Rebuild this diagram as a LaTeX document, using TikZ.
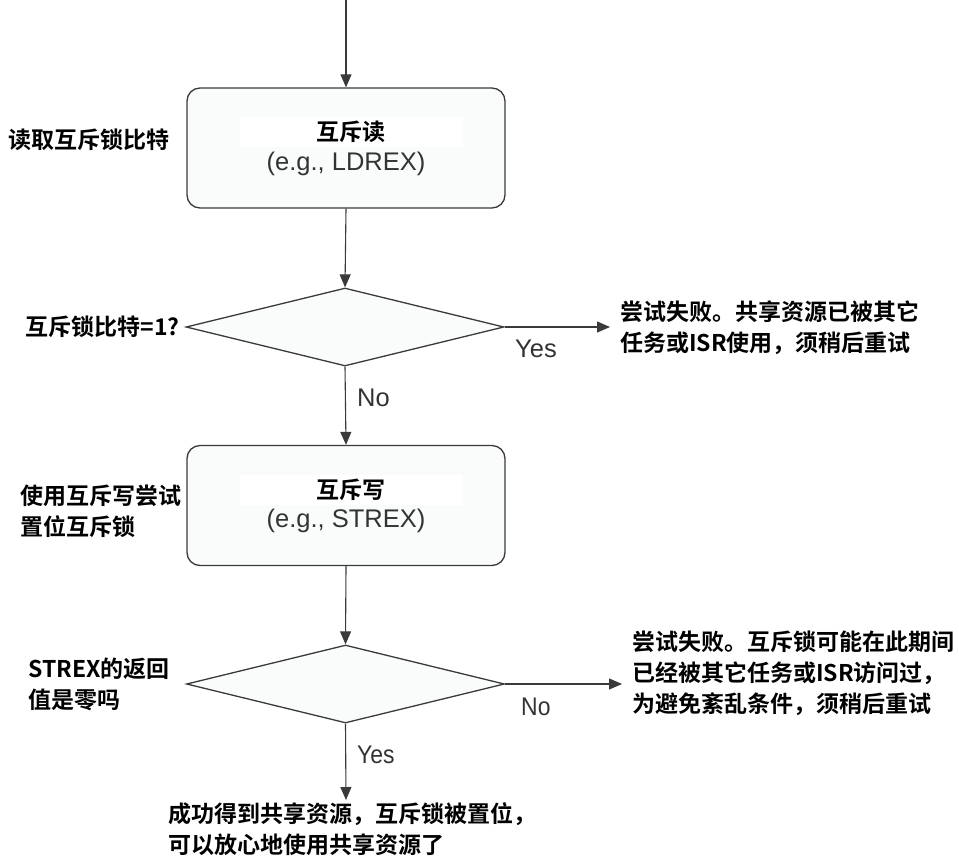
\documentclass[tikz,border=0pt]{standalone}
\usepackage{fontspec}
\newfontfamily\cjk{Noto Sans CJK SC}[BoldFont={Noto Sans CJK SC Bold}]
\newfontfamily\helv{Liberation Sans}
\usetikzlibrary{shapes.geometric,arrows.meta}
\definecolor{linec}{HTML}{3A3A3A}
\definecolor{boxfill}{HTML}{FAFCFC}
\definecolor{engc}{HTML}{333333}
\tikzset{
  flow/.style={draw=linec, line width=1.1pt, -{Triangle[length=13pt,width=11pt]}},
  procbox/.style={draw=linec, line width=1.3pt, fill=boxfill, rounded corners=13pt,
    minimum width=318pt, minimum height=120pt, inner sep=0pt},
  decision/.style={diamond, draw=linec, line width=1.3pt, fill=boxfill,
    minimum width=318pt, minimum height=78pt, inner sep=0pt},
  cn/.style={font=\cjk\bfseries\fontsize{23}{31}\selectfont, align=left, inner sep=0pt, text=black},
  titlecn/.style={cn, fill=white, minimum width=223pt, minimum height=30pt},
  en/.style={font=\helv\fontsize{25.5}{28}\selectfont, text=engc, inner sep=0pt},
}
\begin{document}
\begin{tikzpicture}[x=1pt,y=-1pt]
\useasboundingbox (0,0) rectangle (959,865);
\coordinate (start) at (346,0);
\node[procbox] (box1) at (346,148) {};
\node[titlecn] (t1) at (351,132) {互斥读};
\node[en] (e1) at (346,164) {(e.g., LDREX)};
\node[decision] (d1) at (345,327) {};
\node[procbox] (box2) at (346,505.5) {};
\node[titlecn] (t2) at (351,490) {互斥写};
\node[en] (e2) at (346,521) {(e.g., STREX)};
\node[decision] (d2) at (345.5,684) {};

\node[cn, anchor=west] (l1) at (8,140) {读取互斥锁比特};
\node[cn, anchor=east] (l2) at (180,327) {互斥锁比特=1?};
\node[cn, anchor=west] (l3) at (20,511) {使用互斥写尝试\\置位互斥锁};
\node[cn, anchor=west] (l4) at (28,684) {STREX的返回\\值是零吗};

\node[cn, anchor=west] (r1) at (620,328) {尝试失败。共享资源已被其它\\任务或ISR使用，须稍后重试};
\node[cn, anchor=west] (r2) at (632,673) {尝试失败。互斥锁可能在此期间\\已经被其它任务或ISR访问过，\\为避免紊乱条件，须稍后重试};
\node[cn, anchor=west] (b1) at (168,829) {成功得到共享资源，互斥锁被置位，\\可以放心地使用共享资源了};

\coordinate (r1in) at (610,327);
\coordinate (r2in) at (622,684);
\coordinate (b1in) at (346,800);

\draw[flow] (start) -- (box1.north);
\draw[flow] (box1.south) -- (d1.north);
\draw[flow] (d1.east) -- (r1in);
\draw[flow] (d1.south) -- (box2.north);
\draw[flow] (box2.south) -- (d2.north);
\draw[flow] (d2.east) -- (r2in);
\draw[flow] (d2.south) -- (b1in);

\node[en, anchor=west] (yes1) at (515,349) {Yes};
\node[en, anchor=west] (no1) at (357,398) {No};
\node[en, anchor=west] (no2) at (521,707) {\scalebox{0.9}[1]{No}};
\node[en, anchor=west] (yes2) at (357,755) {\scalebox{0.9}[1]{Yes}};
\end{tikzpicture}
\end{document}
